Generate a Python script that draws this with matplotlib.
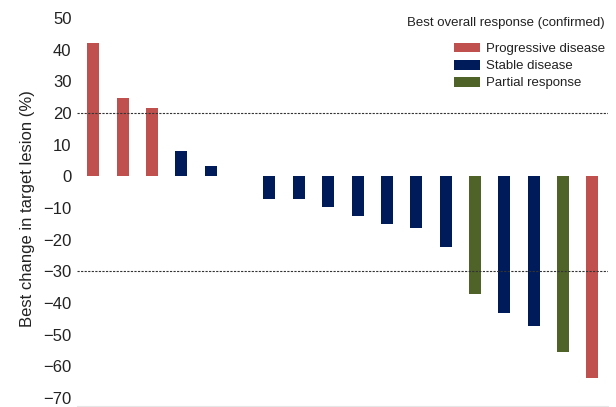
import matplotlib

matplotlib.use("Agg")

import matplotlib.pyplot as plt
from matplotlib.patches import Patch

plt.rcParams["font.family"] = ["Liberation Sans", "DejaVu Sans"]

# best change per patient, sorted as in the waterfall
best_change = [42, 24.6, 21.7, 8.1, 3.3, 0, -7.3, -7.3, -9.7, -12.5, -15.2,
               -16.4, -22.4, -37.3, -43.2, -47.2, -55.4, -63.8]
response = ["PD", "PD", "PD", "SD", "SD", "SD", "SD", "SD", "SD", "SD", "SD",
            "SD", "SD", "PR", "SD", "SD", "PR", "PD"]
response_labels = {"PD": "Progressive disease", "SD": "Stable disease", "PR": "Partial response"}
response_colors = {"PD": "#C0504D", "SD": "#001B5A", "PR": "#4F6228"}
y_ticks = list(range(-70, 51, 10))
thresholds = [20, -30]

fig = plt.figure(figsize=(6.16, 4.07), dpi=100)
ax = fig.add_axes([0.125, 0.0025, 0.862, 0.969])

positions = list(range(len(best_change)))
colors = [response_colors[r] for r in response]
ax.bar(positions, best_change, width=0.41, color=colors, zorder=2)

for level in thresholds:
    ax.axhline(level, color="#333333", linestyle=(0, (2, 1.2)), linewidth=0.8, zorder=3)

ax.set_xlim(-0.555, len(best_change) - 0.47)
ax.set_ylim(-72.5, 52)
ax.set_yticks(y_ticks)
ax.set_xticks([])
ax.tick_params(axis="y", length=0, labelsize=12, pad=4, labelcolor="#222222")
ax.set_ylabel("Best change in target lesion (%)", fontsize=12, color="#222222", labelpad=6)

for side in ["top", "right", "left"]:
    ax.spines[side].set_visible(False)
ax.spines["bottom"].set_color("#e6e6e6")

ax.text(0.994, 0.971, "Best overall response (confirmed)", transform=ax.transAxes,
        ha="right", va="center", fontsize=9.5, color="#222222")
handles = [Patch(facecolor=response_colors[k], label=response_labels[k]) for k in ["PD", "SD", "PR"]]
legend = ax.legend(handles=handles, loc="upper right", frameon=False, fontsize=9.5,
                   handlelength=2.0, handleheight=0.78, handletextpad=0.4, labelspacing=0.35,
                   borderaxespad=0.0, bbox_to_anchor=(1.004, 0.935))
for text in legend.get_texts():
    text.set_color("#222222")

fig.savefig("out.png", dpi=100)
plt.close(fig)
